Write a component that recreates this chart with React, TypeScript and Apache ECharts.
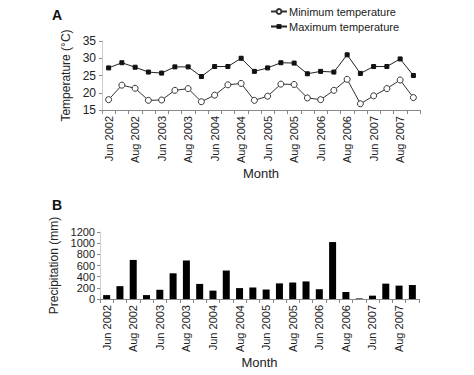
import React, { useEffect, useRef } from "react";
import * as echarts from "echarts";

const months = [
  "Jun 2002", "Jul 2002", "Aug 2002", "Sep 2002",
  "Jun 2003", "Jul 2003", "Aug 2003", "Sep 2003",
  "Jun 2004", "Jul 2004", "Aug 2004", "Sep 2004",
  "Jun 2005", "Jul 2005", "Aug 2005", "Sep 2005",
  "Jun 2006", "Jul 2006", "Aug 2006", "Sep 2006",
  "Jun 2007", "Jul 2007", "Aug 2007", "Sep 2007",
];

const minTemp = [
  18.0, 22.2, 21.3, 17.8, 17.9, 20.7, 21.2, 17.4, 19.3, 22.3, 22.7, 17.8,
  19.0, 22.5, 22.4, 18.5, 18.0, 20.7, 23.9, 16.8, 19.1, 21.2, 23.7, 18.6,
];

const maxTemp = [
  27.2, 28.7, 27.4, 26.0, 25.7, 27.5, 27.5, 24.7, 27.6, 27.6, 30.0, 26.2,
  27.2, 28.7, 28.6, 25.5, 26.2, 26.0, 31.0, 25.6, 27.6, 27.6, 29.8, 25.0,
];

const precipitation = [
  70, 230, 700, 70, 165, 460, 690, 270, 150, 510, 195, 205,
  170, 280, 295, 315, 175, 1020, 125, 10, 60, 275, 240, 250,
];

const FONT = "Liberation Sans, Arial, sans-serif";

export default function App() {
  const ref = useRef<HTMLDivElement>(null);
  useEffect(() => {
    if (!ref.current) return;
    const chart = echarts.init(ref.current, null, { renderer: "svg" });
    const catAxis = (gridIndex: number) => ({
      type: "category",
      gridIndex,
      data: months,
      boundaryGap: true,
      name: "Month",
      nameLocation: "middle",
      nameGap: 55,
      nameTextStyle: { fontFamily: FONT, fontSize: 13, color: "#222" },
      axisLine: { lineStyle: { color: "#888", width: 1 } },
      axisTick: { show: true, interval: 0, length: 4, lineStyle: { color: "#888" } },
      axisLabel: {
        interval: 1,
        rotate: 90,
        fontFamily: FONT,
        fontSize: 11,
        color: "#222",
        margin: 6,
      },
      splitLine: { show: false },
    });
    chart.setOption({
      animation: false,
      backgroundColor: "#fff",
      textStyle: { fontFamily: FONT },
      legend: {
        orient: "vertical",
        left: 265,
        top: 1,
        itemWidth: 16,
        itemHeight: 6,
        itemGap: 4,
        textStyle: { fontFamily: FONT, fontSize: 11, color: "#222", padding: [0, 0, 0, -3] },
        data: ["Minimum temperature", "Maximum temperature"],
      },
      graphic: [
        { type: "text", left: 52, top: 8, style: { text: "A", font: "bold 14px " + FONT, fill: "#111" } },
        { type: "text", left: 52, top: 198, style: { text: "B", font: "bold 14px " + FONT, fill: "#111" } },
      ],
      grid: [
        { left: 102, right: 54, top: 41, height: 69 },
        { left: 100, right: 55, top: 232, height: 67 },
      ],
      xAxis: [catAxis(0), catAxis(1)],
      yAxis: [
        {
          type: "value",
          gridIndex: 0,
          min: 15,
          max: 35,
          interval: 5,
          name: "Temperature (°C)",
          nameLocation: "middle",
          nameGap: 22,
          nameTextStyle: { fontFamily: FONT, fontSize: 12, color: "#222" },
          axisLine: { show: true, lineStyle: { color: "#ccc" } },
          axisTick: { show: true, length: 3, lineStyle: { color: "#888" } },
          axisLabel: { fontFamily: FONT, fontSize: 12, color: "#222", margin: 6 },
          splitLine: { show: false },
        },
        {
          type: "value",
          gridIndex: 1,
          min: 0,
          max: 1200,
          interval: 200,
          name: "Precipitation (mm)",
          nameLocation: "middle",
          nameGap: 35,
          nameTextStyle: { fontFamily: FONT, fontSize: 12, color: "#222" },
          axisLine: { show: true, lineStyle: { color: "#ccc" } },
          axisTick: { show: true, length: 3, lineStyle: { color: "#888" } },
          axisLabel: {
            fontFamily: FONT,
            fontSize: 11,
            lineHeight: 11,
            color: "#222",
            margin: 5,
            hideOverlap: false,
            formatter: (v: number) => String(v),
          },
          splitLine: { show: false },
        },
      ],
      series: [
        {
          name: "Minimum temperature",
          type: "line",
          xAxisIndex: 0,
          yAxisIndex: 0,
          data: minTemp,
          symbol: "circle",
          symbolSize: 6,
          showAllSymbol: true,
          lineStyle: { color: "#333", width: 1 },
          itemStyle: { color: "#fff", borderColor: "#333", borderWidth: 1 },
        },
        {
          name: "Maximum temperature",
          type: "line",
          xAxisIndex: 0,
          yAxisIndex: 0,
          data: maxTemp,
          symbol: "rect",
          symbolSize: 4,
          showAllSymbol: true,
          lineStyle: { color: "#222", width: 1 },
          itemStyle: { color: "#111", borderColor: "#111" },
        },
        {
          name: "Precipitation",
          type: "bar",
          xAxisIndex: 1,
          yAxisIndex: 1,
          data: precipitation,
          barWidth: 7,
          itemStyle: { color: "#000" },
        },
      ],
    });
    return () => chart.dispose();
  }, []);
  return <div ref={ref} style={{ width: 474, height: 375, position: "absolute", left: 0, top: 0 }} />;
}
